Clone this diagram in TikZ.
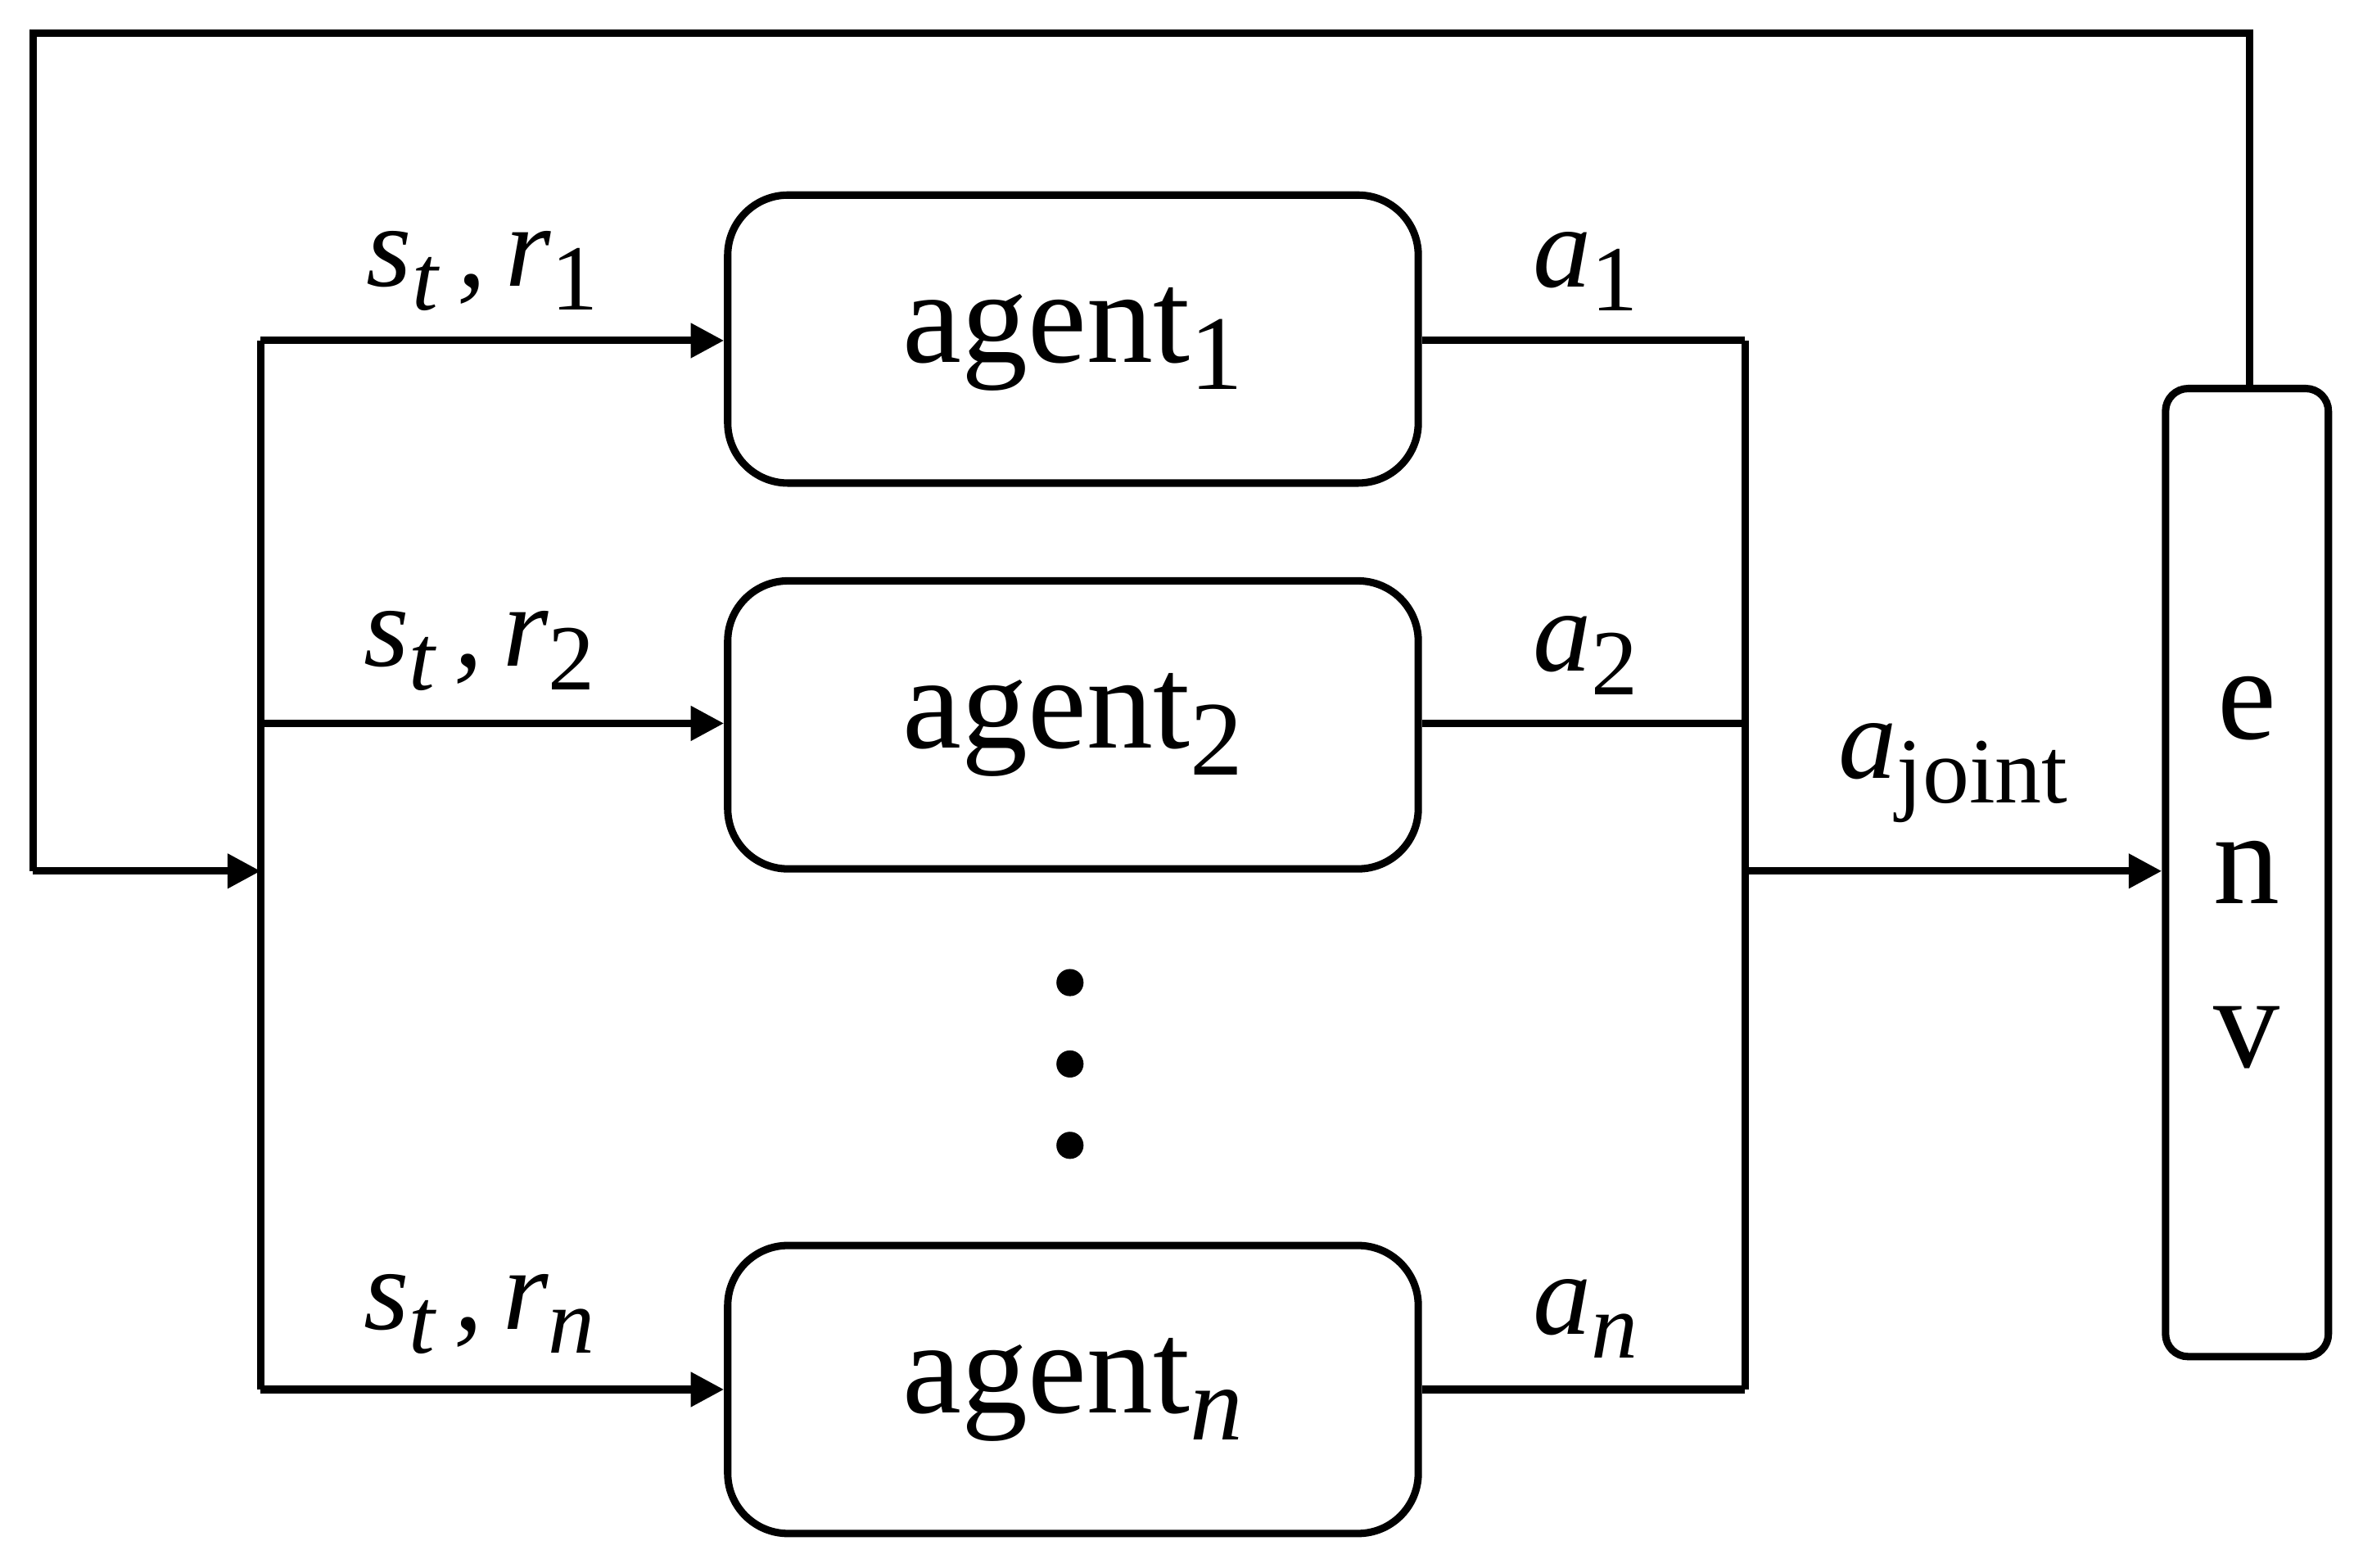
\documentclass[tikz,border=0pt]{standalone}
\usepackage{fontspec}
\setmainfont{Liberation Serif}
\usetikzlibrary{arrows.meta}
\newcommand{\sub}[1]{\raisebox{-0.45ex}{\scalebox{0.8}{#1}}}
\begin{document}
\begin{tikzpicture}[x=0.01cm,y=-0.01cm,
  ln/.style={line width=1.4pt},
  ar/.style={ln,-{Triangle[length=0.22cm,width=0.22cm]}},
  box/.style={draw,line width=1.4pt,rounded corners=0.4cm,minimum width=4.58cm,minimum height=1.91cm,font=\fontsize{25}{28}\selectfont},
  lab/.style={font=\fontsize{22}{24}\selectfont\itshape}]
\useasboundingbox (0,0) rectangle (1568,1040);
\node[box] (ag1) at (712,225) {agent\sub{1}};
\node[box] (ag2) at (712,481) {agent\sub{2}};
\node[box] (agn) at (712,922) {agent\sub{\textit{n}}};
\node[draw,line width=1.4pt,rounded corners=0.15cm,minimum width=1.08cm,minimum height=6.42cm,align=center,font=\fontsize{25}{31}\selectfont] (env) at (1491,579) {e\\n\\v};
\coordinate (l1) at (173,226); \coordinate (l2) at (173,480);
\coordinate (lm) at (173,578); \coordinate (ln) at (173,922);
\coordinate (r1) at (1158,226); \coordinate (rn) at (1158,922);
\coordinate (rm) at (1158,578);
\coordinate (t1) at (1493,22); \coordinate (t2) at (22,22); \coordinate (t3) at (22,578);
\draw[ln] (l1) -- (ln);
\draw[ln] (r1) -- (rn);
\draw[ar] (l1) -- (ag1.west |- l1);
\draw[ar] (l2) -- (ag2.west |- l2);
\draw[ar] (ln) -- (agn.west |- ln);
\draw[ln] (ag1.east |- r1) -- (r1);
\draw[ln] (ag2.east |- 0,480) -- (1158,480);
\draw[ln] (agn.east |- rn) -- (rn);
\draw[ar] (rm) -- (env.west |- rm);
\draw[ln] (env.north -| t1) -- (t1) -- (t2) -- (t3);
\draw[ar] (t3) -- (lm);
\foreach \y in {652,706,760} \fill (710,\y) circle (0.09cm);
\node[lab] at (320,180) {s\sub{t}\,,\,r\sub{\upshape 1}};
\node[lab] at (318,432) {s\sub{t}\,,\,r\sub{\upshape 2}};
\node[lab] at (318,872) {s\sub{t}\,,\,r\sub{n}};
\node[lab] at (1052,180) {a\sub{\upshape 1}};
\node[lab] at (1052,435) {a\sub{\upshape 2}};
\node[lab] at (1052,875) {a\sub{n}};
\node[lab] at (1296,513) {a\sub{\upshape joint}};
\end{tikzpicture}
\end{document}
